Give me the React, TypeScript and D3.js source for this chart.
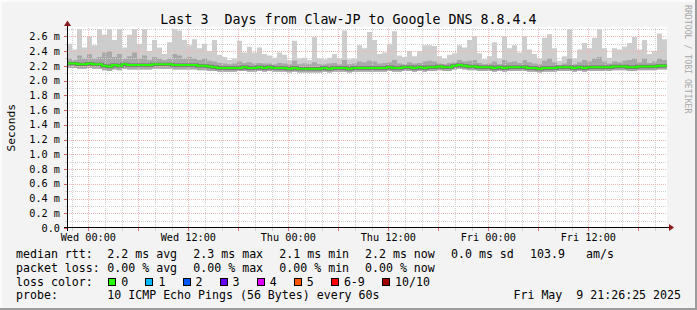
import React from 'react';
import * as d3 from 'd3';

const W = 697;
const H = 310;

// time window (UTC so the sandbox timezone does not matter)
const START = Date.UTC(2025, 4, 6, 21, 26, 25);
const END = Date.UTC(2025, 4, 9, 21, 26, 25);
const STEP_MINUTES = 36;

// median rtt (ms)
const median = [
  2.23, 2.23, 2.22, 2.22, 2.23, 2.22, 2.22, 2.20, 2.19, 2.21,
  2.20, 2.22, 2.21, 2.21, 2.21, 2.21, 2.21, 2.22, 2.22, 2.22,
  2.22, 2.21, 2.21, 2.21, 2.21, 2.21, 2.20, 2.20, 2.19, 2.18,
  2.17, 2.17, 2.17, 2.17, 2.17, 2.18, 2.17, 2.17, 2.18, 2.17,
  2.18, 2.17, 2.17, 2.17, 2.16, 2.17, 2.16, 2.16, 2.16, 2.16,
  2.16, 2.17, 2.16, 2.17, 2.17, 2.17, 2.16, 2.17, 2.17, 2.17,
  2.17, 2.17, 2.17, 2.17, 2.18, 2.17, 2.17, 2.18, 2.18, 2.17,
  2.18, 2.17, 2.18, 2.18, 2.19, 2.18, 2.18, 2.20, 2.21, 2.20,
  2.19, 2.19, 2.18, 2.18, 2.18, 2.17, 2.18, 2.17, 2.18, 2.18,
  2.18, 2.18, 2.17, 2.17, 2.16, 2.17, 2.17, 2.17, 2.18, 2.18,
  2.18, 2.17, 2.18, 2.17, 2.18, 2.18, 2.18, 2.18, 2.18, 2.19,
  2.19, 2.19, 2.18, 2.18, 2.19, 2.19, 2.19, 2.19, 2.20, 2.20,
];

// highest ping of each step (ms)
const hi = [
  2.50, 2.42, 2.70, 2.45, 2.60, 2.48, 2.70, 2.62, 2.70, 2.55,
  2.70, 2.45, 2.62, 2.70, 2.50, 2.70, 2.40, 2.55, 2.45, 2.36,
  2.52, 2.70, 2.68, 2.55, 2.48, 2.56, 2.44, 2.50, 2.40, 2.55,
  2.35, 2.32, 2.28, 2.30, 2.54, 2.38, 2.46, 2.38, 2.45, 2.36,
  2.34, 2.31, 2.38, 2.35, 2.28, 2.54, 2.30, 2.31, 2.28, 2.59,
  2.30, 2.29, 2.31, 2.36, 2.30, 2.68, 2.29, 2.30, 2.48, 2.44,
  2.66, 2.55, 2.36, 2.38, 2.50, 2.67, 2.34, 2.32, 2.40, 2.33,
  2.40, 2.48, 2.48, 2.47, 2.33, 2.30, 2.35, 2.37, 2.48, 2.45,
  2.55, 2.60, 2.37, 2.29, 2.33, 2.52, 2.30, 2.60, 2.44, 2.48,
  2.38, 2.60, 2.42, 2.36, 2.30, 2.58, 2.63, 2.44, 2.27, 2.33,
  2.70, 2.30, 2.42, 2.51, 2.44, 2.58, 2.70, 2.44, 2.31, 2.44,
  2.42, 2.46, 2.51, 2.59, 2.42, 2.55, 2.36, 2.40, 2.64, 2.56,
];

// upper edge of the denser smoke (ms)
const q3 = [
  2.30, 2.28, 2.34, 2.30, 2.36, 2.30, 2.32, 2.38, 2.40, 2.32,
  2.36, 2.30, 2.33, 2.38, 2.30, 2.34, 2.28, 2.32, 2.30, 2.28,
  2.30, 2.36, 2.34, 2.30, 2.32, 2.30, 2.28, 2.30, 2.27, 2.26,
  2.24, 2.23, 2.22, 2.23, 2.26, 2.24, 2.25, 2.23, 2.24, 2.23,
  2.23, 2.22, 2.24, 2.23, 2.22, 2.27, 2.22, 2.23, 2.22, 2.25,
  2.22, 2.22, 2.23, 2.24, 2.22, 2.28, 2.22, 2.23, 2.26, 2.25,
  2.27, 2.26, 2.23, 2.24, 2.25, 2.28, 2.23, 2.22, 2.25, 2.23,
  2.24, 2.26, 2.27, 2.26, 2.23, 2.22, 2.24, 2.25, 2.28, 2.26,
  2.27, 2.28, 2.24, 2.22, 2.23, 2.26, 2.22, 2.28, 2.25, 2.26,
  2.24, 2.28, 2.25, 2.23, 2.22, 2.27, 2.30, 2.25, 2.21, 2.23,
  2.30, 2.22, 2.25, 2.28, 2.26, 2.30, 2.32, 2.26, 2.23, 2.26,
  2.25, 2.27, 2.28, 2.30, 2.25, 2.30, 2.24, 2.26, 2.30, 2.28,
];

// lowest ping of each step (ms)
const lo = [
  2.17, 2.17, 2.16, 2.16, 2.17, 2.16, 2.16, 2.14, 2.13, 2.15,
  2.14, 2.16, 2.15, 2.15, 2.15, 2.15, 2.15, 2.16, 2.16, 2.16,
  2.16, 2.15, 2.15, 2.15, 2.15, 2.15, 2.14, 2.14, 2.13, 2.13,
  2.12, 2.12, 2.12, 2.12, 2.13, 2.13, 2.12, 2.12, 2.13, 2.12,
  2.13, 2.12, 2.12, 2.12, 2.11, 2.12, 2.11, 2.11, 2.11, 2.11,
  2.11, 2.12, 2.11, 2.12, 2.12, 2.12, 2.11, 2.12, 2.12, 2.12,
  2.12, 2.12, 2.12, 2.12, 2.13, 2.12, 2.12, 2.13, 2.13, 2.12,
  2.13, 2.12, 2.13, 2.13, 2.14, 2.13, 2.13, 2.15, 2.16, 2.15,
  2.14, 2.14, 2.13, 2.13, 2.13, 2.12, 2.13, 2.12, 2.13, 2.13,
  2.13, 2.13, 2.12, 2.12, 2.11, 2.12, 2.12, 2.12, 2.13, 2.13,
  2.13, 2.12, 2.13, 2.12, 2.13, 2.13, 2.13, 2.13, 2.13, 2.14,
  2.14, 2.14, 2.13, 2.13, 2.14, 2.14, 2.14, 2.14, 2.15, 2.15,
];

const yMajorTicks = [0, 0.2, 0.4, 0.6, 0.8, 1.0, 1.2, 1.4, 1.6, 1.8, 2.0, 2.2, 2.4, 2.6];
const yMajorLabels = ['0.0', '0.2 m', '0.4 m', '0.6 m', '0.8 m', '1.0 m', '1.2 m', '1.4 m', '1.6 m', '1.8 m', '2.0 m', '2.2 m', '2.4 m', '2.6 m'];
const yMinorTicks = [0.1, 0.3, 0.5, 0.7, 0.9, 1.1, 1.3, 1.5, 1.7, 1.9, 2.1, 2.3, 2.5, 2.7];

const titleText = 'Last 3  Days from Claw-JP to Google DNS 8.8.4.4';
const unitText = 'Seconds';
const watermark = 'RRDTOOL / TOBI OETIKER';

const rttLabels = ['2.2 ms avg', '2.3 ms max', '2.1 ms min', '2.2 ms now', '0.0 ms sd'];
const lossLabelsStats = ['0.00 % avg', '0.00 % max', '0.00 % min', '0.00 % now'];
const amsValue = '103.9';
const amsUnit = 'am/s';
const lossNames = ['0', '1', '2', '3', '4', '5', '6-9', '10/10'];
const lossColors = ['#26ff00', '#00b8ff', '#0059ff', '#6a00ff', '#e000ff', '#ff5500', '#ff0000', '#a10000'];
const probeText = '10 ICMP Echo Pings (56 Bytes) every 60s';
const stampText = 'Fri May  9 21:26:25 2025';

const MONO = '"DejaVu Sans Mono", "Liberation Mono", monospace';
const PRE: React.CSSProperties = { whiteSpace: 'pre' };

export default function App() {
  const left = 67;
  const right = 667;
  const top = 27.5;
  const bottom = 228;

  const x = d3.scaleUtc().domain([START, END]).range([left, right]);
  const y = d3.scaleLinear().domain([0, 2.72]).range([bottom, top]);

  type P = { t: number; med: number; hi: number; q3: number; lo: number };
  const pts: P[] = median.map((m, i) => ({
    t: START + i * STEP_MINUTES * 60000,
    med: m,
    hi: hi[i],
    q3: q3[i],
    lo: lo[i],
  }));
  const last = pts[pts.length - 1];
  const ptsClosed = [...pts, { ...last, t: END }];

  const outer = d3.area<P>().x(d => x(d.t)).y0(d => y(d.lo)).y1(d => y(d.hi)).curve(d3.curveStepAfter)(ptsClosed) || '';
  const inner = d3.area<P>().x(d => x(d.t)).y0(d => y(d.lo)).y1(d => y(d.q3)).curve(d3.curveStepAfter)(ptsClosed) || '';
  const medLine = d3.line<P>().x(d => x(d.t)).y(d => y(d.med)).curve(d3.curveStepAfter)(ptsClosed) || '';

  const minorX = d3.utcHour.every(2)!.range(new Date(START), new Date(END));
  const majorX = d3.utcHour.every(6)!.range(new Date(START), new Date(END));
  const labelX = d3.utcHour.every(12)!.range(new Date(START), new Date(END));
  const fmt = d3.utcFormat('%a %H:%M');

  const px = (v: number) => Math.round(v) + 0.5;

  const minorGrid = '#d0d0d0';
  const majorGrid = '#f0b4b4';

  // loss colour legend positions
  const charW = 7.02;
  let cur = 108.3;
  const swatches = lossNames.map((name, i) => {
    const sx = cur;
    const lx = sx + 13;
    cur = lx + name.length * charW + 17.08;
    return { name, color: lossColors[i], sx, lx };
  });

  const statX = [107.3, 193.3, 279.3, 365, 451];
  const legendFont = 11.6;

  return (
    <svg width={W} height={H} viewBox={`0 0 ${W} ${H}`} style={{ position: 'absolute', left: 0, top: 0, display: 'block' }}>
      <rect x={0} y={0} width={W} height={H} fill="#f3f3f3" />
      {/* frame */}
      <rect x={0} y={0} width={W} height={2} fill="#fbfbfb" />
      <rect x={0} y={0} width={2} height={H} fill="#fbfbfb" />
      <rect x={0} y={H - 2} width={W} height={2} fill="#9c9c9c" />
      <rect x={W - 2} y={0} width={2} height={H} fill="#9c9c9c" />

      {/* canvas */}
      <rect x={left} y={27} width={right - left} height={bottom - 27} fill="#ffffff" />

      {/* smoke */}
      <path d={outer} fill="#cdcdcd" />
      <path d={inner} fill="#a8a8a8" />

      {/* grid */}
      <g shapeRendering="crispEdges">
        {yMinorTicks.map(v => (
          <line key={'ym' + v} x1={left} x2={right} y1={px(y(v))} y2={px(y(v))} stroke={minorGrid} strokeDasharray="1,1" />
        ))}
        {minorX.filter(d => d.getUTCHours() % 6 !== 0).map(d => (
          <line key={'xm' + d.getTime()} x1={px(x(d))} x2={px(x(d))} y1={28} y2={228} stroke={minorGrid} strokeDasharray="1,1" />
        ))}
        {yMajorTicks.filter(v => v > 0).map(v => (
          <line key={'yM' + v} x1={left} x2={right} y1={px(y(v))} y2={px(y(v))} stroke={majorGrid} strokeDasharray="1,1" />
        ))}
        {majorX.map(d => (
          <line key={'xM' + d.getTime()} x1={px(x(d))} x2={px(x(d))} y1={28} y2={228} stroke={majorGrid} strokeDasharray="1,1" />
        ))}
        {/* ticks outside canvas */}
        {yMinorTicks.map(v => (
          <line key={'ytm' + v} x1={left - 2} x2={left} y1={px(y(v))} y2={px(y(v))} stroke={minorGrid} />
        ))}
        {yMajorTicks.map(v => (
          <line key={'ytM' + v} x1={left - 3} x2={left} y1={px(y(v))} y2={px(y(v))} stroke="#d06060" />
        ))}
        {minorX.filter(d => d.getUTCHours() % 6 !== 0).map(d => (
          <line key={'xtm' + d.getTime()} x1={px(x(d))} x2={px(x(d))} y1={bottom} y2={bottom + 3} stroke={minorGrid} />
        ))}
        {majorX.map(d => (
          <line key={'xtM' + d.getTime()} x1={px(x(d))} x2={px(x(d))} y1={bottom} y2={bottom + 3} stroke="#e07070" />
        ))}
      </g>

      {/* median line */}
      <path d={medLine} fill="none" stroke="#707070" strokeWidth={3.4} />
      <path d={medLine} fill="none" stroke="#26ff00" strokeWidth={2} />

      {/* axes */}
      <g shapeRendering="crispEdges">
        <line x1={left - 3} x2={right + 2} y1={px(bottom) - 1} y2={px(bottom) - 1} stroke="#000" />
        <line x1={left + 0.5} x2={left + 0.5} y1={bottom + 3} y2={24} stroke="#000" />
      </g>
      <path d={`M${right + 2},${bottom - 4} L${right + 7},${bottom - 0.5} L${right + 2},${bottom + 3} Z`} fill="#8b1a1a" />
      <path d={`M${left - 3},${26} L${left + 0.5},${20.5} L${left + 4},${26} Z`} fill="#8b1a1a" />

      {/* y labels */}
      {yMajorTicks.map((v, i) => (
        <text key={'yl' + v} x={60} y={y(v)} dy="0.36em" textAnchor="end" fontFamily={MONO} fontSize={10.2} fill="#000">
          {yMajorLabels[i]}
        </text>
      ))}
      {/* x labels */}
      {labelX.map(d => (
        <text key={'xl' + d.getTime()} x={x(d)} y={240.7} textAnchor="middle" fontFamily={MONO} fontSize={10.2} fill="#000" style={PRE} xmlSpace="preserve">
          {fmt(d)}
        </text>
      ))}

      {/* title */}
      <text x={W / 2} y={24} textAnchor="middle" fontFamily={MONO} fontSize={13.3} fill="#000" style={PRE} xmlSpace="preserve">
        {titleText}
      </text>
      {/* unit */}
      <text transform={`translate(14.5, ${(top + bottom) / 2}) rotate(-90)`} textAnchor="middle" fontFamily={MONO} fontSize={11.3} fill="#000">
        {unitText}
      </text>
      {/* watermark */}
      <text transform={`translate(685, 5) rotate(90)`} textAnchor="start" fontFamily={MONO} fontSize={8.2} fill="#a8a8a8" style={PRE} xmlSpace="preserve">
        {watermark}
      </text>

      {/* legend */}
      <g fontFamily={MONO} fontSize={legendFont} fill="#000">
        <text x={16} y={257.8} style={PRE}>median rtt:</text>
        {rttLabels.map((t, i) => (
          <text key={'r' + i} x={statX[i]} y={257.8} style={PRE}>{t}</text>
        ))}
        <text x={530} y={257.8} style={PRE}>{amsValue}</text>
        <text x={586} y={257.8} style={PRE}>{amsUnit}</text>

        <text x={16} y={271.6} style={PRE}>packet loss:</text>
        {lossLabelsStats.map((t, i) => (
          <text key={'l' + i} x={statX[i]} y={271.6} style={PRE}>{t}</text>
        ))}

        <text x={16} y={285.5} style={PRE}>loss color:</text>
        {swatches.map(s => (
          <g key={'s' + s.name}>
            <rect x={Math.round(s.sx) + 0.5} y={278.5} width={7} height={7} fill={s.color} stroke="#000" strokeWidth={1} shapeRendering="crispEdges" />
            <text x={s.lx} y={285.5} style={PRE}>{s.name}</text>
          </g>
        ))}

        <text x={16} y={299.4} style={PRE}>probe:</text>
        <text x={107.3} y={299.4} style={PRE} xmlSpace="preserve">{probeText}</text>
        <text x={681} y={299.4} textAnchor="end" style={PRE} xmlSpace="preserve">{stampText}</text>
      </g>
    </svg>
  );
}
